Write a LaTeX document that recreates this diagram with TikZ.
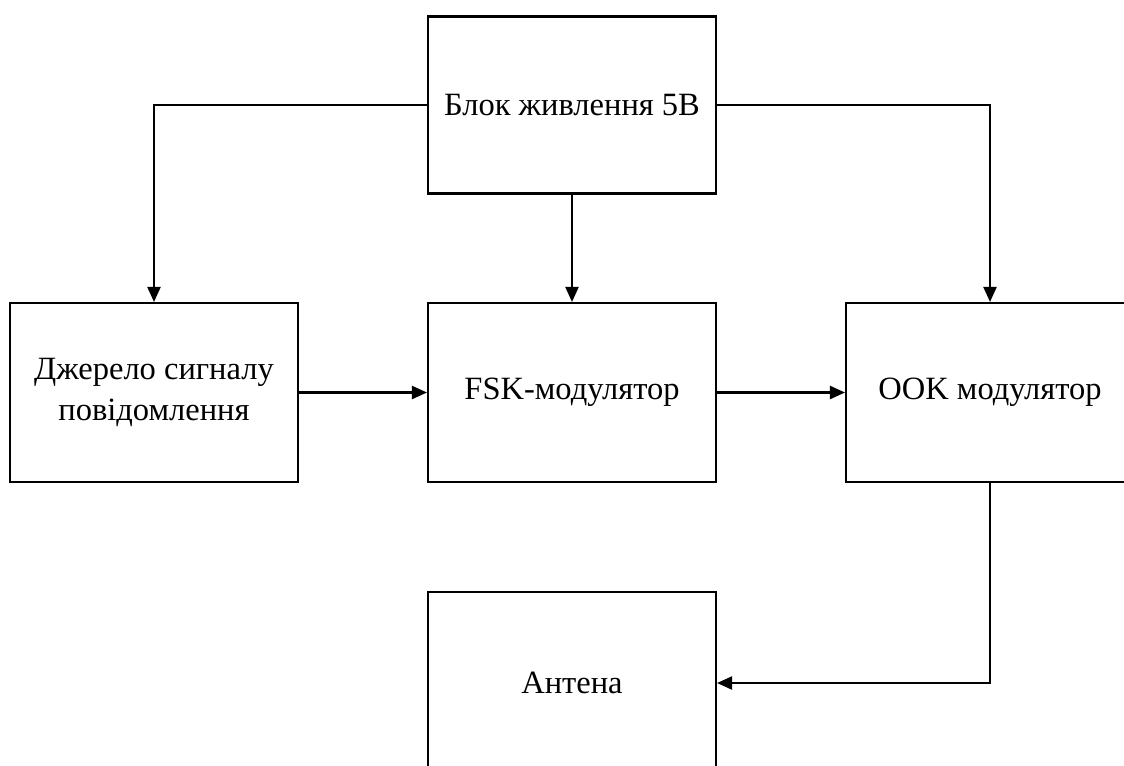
\documentclass[tikz,border=0pt]{standalone}
\usepackage{fontspec}
\setmainfont{Liberation Serif}
\usetikzlibrary{arrows.meta}
\begin{document}
\begin{tikzpicture}[x=0.02cm,y=-0.02cm,
  blk/.style={draw=black,line width=1.2pt,fill=white,minimum width=5.76cm,minimum height=3.56cm,
    align=center,font=\fontsize{18.5}{23}\selectfont,inner sep=0pt},
  arr/.style={draw=black,line width=1.2pt,-{Triangle[length=0.3cm,width=0.26cm]}}]
\useasboundingbox (0,0) rectangle (1124,765);
\clip (0,0) rectangle (1124,765);
\node[blk,minimum height=3.54cm] (pwr) at (572,105) {Блок живлення 5В};
\node[blk,minimum height=3.58cm] (src) at (154,392.5) {Джерело сигналу\\повідомлення};
\node[blk,minimum height=3.58cm] (fsk) at (572,392.5) {FSK-модулятор};
\node[blk,minimum height=3.58cm] (ook) at (990,392.5) {OOK модулятор};
\node[blk,minimum height=3.64cm] (ant) at (572,683) {Антена};
\draw[arr] (pwr.west) -| (src.north);
\draw[arr] (pwr.east) -| (ook.north);
\draw[arr] (pwr.south) -- (fsk.north);
\draw[arr] (src.east) -- (fsk.west);
\draw[arr] (fsk.east) -- (ook.west);
\draw[arr] (ook.south) |- (ant.east);
\end{tikzpicture}
\end{document}
